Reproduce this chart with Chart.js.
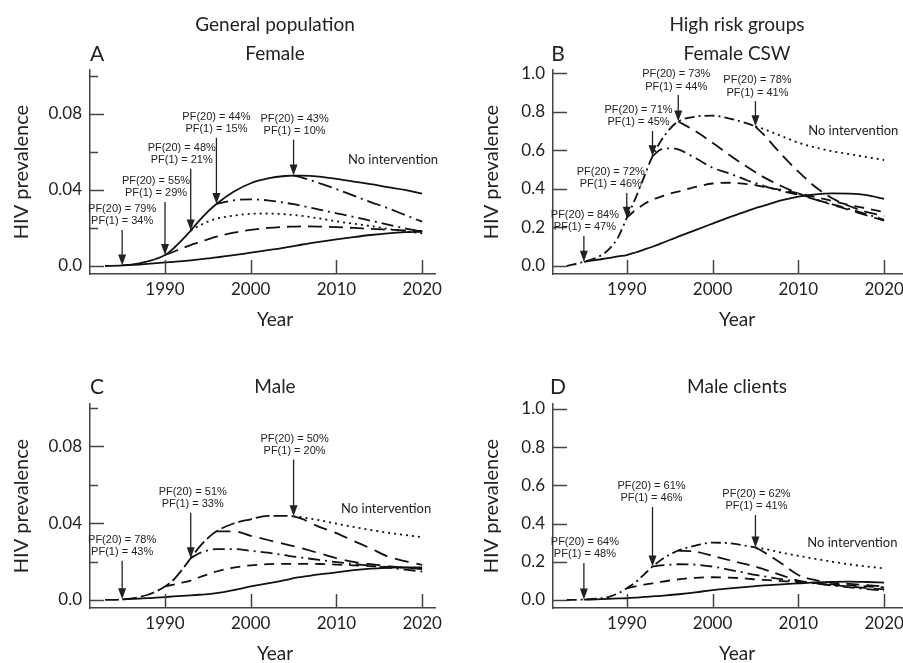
<!DOCTYPE html>
<html>
<head>
<meta charset="utf-8">
<title>HIV prevalence</title>
<script src="https://cdn.jsdelivr.net/npm/chart.js@4.4.0/dist/chart.umd.min.js"></script>
<style>
  body { margin: 0; background: #fff; width: 903px; height: 663px; position: relative; overflow: hidden; font-family: Lato, sans-serif; color: #222; }
  canvas { position: absolute; }
  .txt { position: absolute; transform: translate(-50%, -50%); white-space: nowrap; font-size: 19px; line-height: 1; }
  .letter { font-size: 21px; }
</style>
</head>
<body>
<canvas id="chartA" width="451" height="331" style="left:0;top:0"></canvas>
<canvas id="chartB" width="452" height="331" style="left:451px;top:0"></canvas>
<canvas id="chartC" width="451" height="332" style="left:0;top:331px"></canvas>
<canvas id="chartD" width="452" height="332" style="left:451px;top:331px"></canvas>

<div class="txt" style="left:275px;top:23px">General population</div>
<div class="txt" style="left:275px;top:52px">Female</div>
<div class="txt letter" style="left:97px;top:52px">A</div>
<div class="txt" style="left:737px;top:23px">High risk groups</div>
<div class="txt" style="left:737px;top:52px">Female CSW</div>
<div class="txt letter" style="left:558px;top:52px">B</div>
<div class="txt" style="left:275px;top:385px">Male</div>
<div class="txt letter" style="left:97px;top:385px">C</div>
<div class="txt" style="left:737px;top:385px">Male clients</div>
<div class="txt letter" style="left:558px;top:385px">D</div>
<div class="txt" style="left:275px;top:318px">Year</div>
<div class="txt" style="left:737px;top:318px">Year</div>
<div class="txt" style="left:275px;top:652px">Year</div>
<div class="txt" style="left:737px;top:652px">Year</div>

<script>
'use strict';

// years sampled for all curves
let years = [1983, 1985, 1987, 1988, 1989, 1990, 1991, 1992, 1993, 1994, 1995, 1996, 1998,
  2000, 2002, 2004, 2005, 2006, 2008, 2010, 2012, 2014, 2016, 2018, 2020];

let xTicks = [1990, 2000, 2010, 2020];
let xTickLabels = ['1990', '2000', '2010', '2020'];
let genTicks = [0, 0.02, 0.04, 0.06, 0.08, 0.1];
let genTickLabels = ['0.0', '', '0.04', '', '0.08', ''];
let riskTicks = [0, 0.2, 0.4, 0.6, 0.8, 1.0];
let riskTickLabels = ['0.0', '0.2', '0.4', '0.6', '0.8', '1.0'];

// A - general population, female
let femNoInt = [0, 0.0003, 0.0014, 0.0025, 0.0038, 0.0058, 0.0093, 0.0137, 0.0186, 0.0239, 0.0286, 0.0326, 0.039,
  0.0435, 0.046, 0.0473, 0.0475, 0.0475, 0.047, 0.0458, 0.0444, 0.043, 0.0414, 0.040, 0.038];
let femI1985 = [null, 0.0003, 0.0008, 0.0011, 0.0015, 0.0019, 0.0022, 0.0026, 0.003, 0.0035, 0.004, 0.0045, 0.0057,
  0.007, 0.0083, 0.0097, 0.0105, 0.0113, 0.0127, 0.014, 0.0152, 0.0163, 0.0172, 0.0178, 0.018];
let femI1990 = [null, null, null, null, null, 0.0058, 0.0075, 0.0093, 0.011, 0.0125, 0.014, 0.0154, 0.0175,
  0.019, 0.02, 0.0206, 0.0207, 0.0208, 0.0207, 0.0204, 0.02, 0.0195, 0.0191, 0.0187, 0.0184];
let femI1993 = [null, null, null, null, null, null, null, null, 0.0186, 0.0212, 0.0233, 0.0248, 0.0265,
  0.0274, 0.0276, 0.0272, 0.0268, 0.0263, 0.025, 0.0235, 0.0222, 0.021, 0.0195, 0.0183, 0.0172];
let femI1996 = [null, null, null, null, null, null, null, null, null, null, null, 0.0326, 0.0345,
  0.035, 0.0345, 0.0332, 0.0325, 0.0316, 0.0296, 0.0277, 0.0258, 0.0238, 0.0218, 0.0198, 0.018];
let femI2005 = [null, null, null, null, null, null, null, null, null, null, null, null, null,
  null, null, null, 0.0475, 0.0465, 0.0435, 0.0404, 0.037, 0.0336, 0.0304, 0.0268, 0.0233];
let femArrowYears = [1985, 1990, 1993, 1996, 2005];
let femPF20 = [79, 55, 48, 44, 43];
let femPF1 = [34, 29, 21, 15, 10];

// B - female commercial sex workers
let cswNoInt = [0, 0.022, 0.055, 0.09, 0.15, 0.25, 0.35, 0.46, 0.57, 0.65, 0.71, 0.75, 0.775,
  0.78, 0.765, 0.74, 0.725, 0.71, 0.675, 0.64, 0.615, 0.595, 0.58, 0.565, 0.55];
let cswI1985 = [null, 0.022, 0.035, 0.042, 0.05, 0.057, 0.07, 0.085, 0.1, 0.117, 0.135, 0.152, 0.186,
  0.22, 0.254, 0.285, 0.30, 0.313, 0.34, 0.36, 0.372, 0.377, 0.376, 0.368, 0.348];
let cswI1990 = [null, null, null, null, null, 0.25, 0.29, 0.32, 0.345, 0.36, 0.375, 0.386, 0.41,
  0.428, 0.432, 0.425, 0.42, 0.41, 0.395, 0.377, 0.358, 0.337, 0.316, 0.298, 0.28];
let cswI1993 = [null, null, null, null, null, null, null, null, 0.57, 0.605, 0.61, 0.605, 0.56,
  0.51, 0.48, 0.445, 0.43, 0.415, 0.39, 0.37, 0.345, 0.32, 0.295, 0.268, 0.24];
let cswI1996 = [null, null, null, null, null, null, null, null, null, null, null, 0.75, 0.70,
  0.64, 0.575, 0.515, 0.487, 0.46, 0.415, 0.377, 0.345, 0.317, 0.29, 0.262, 0.235];
let cswI2005 = [null, null, null, null, null, null, null, null, null, null, null, null, null,
  null, null, null, 0.723, 0.68, 0.58, 0.49, 0.41, 0.35, 0.31, 0.28, 0.26];
let cswArrowYears = [1985, 1990, 1993, 1996, 2005];
let cswPF20 = [84, 72, 71, 73, 78];
let cswPF1 = [47, 46, 45, 44, 41];

// C - general population, male
let maleNoInt = [0, 0.0003, 0.0015, 0.0027, 0.0045, 0.007, 0.0105, 0.0158, 0.0217, 0.0275, 0.0322, 0.0357, 0.0398,
  0.042, 0.0438, 0.0438, 0.0435, 0.043, 0.0415, 0.0397, 0.038, 0.0364, 0.035, 0.0338, 0.0327];
let maleI1985 = [null, 0.0003, 0.0007, 0.0009, 0.0012, 0.0015, 0.0018, 0.0021, 0.0024, 0.0027, 0.003, 0.0035, 0.0051,
  0.007, 0.0086, 0.0103, 0.0113, 0.012, 0.0133, 0.0143, 0.0155, 0.0163, 0.0167, 0.0169, 0.0169];
let maleI1990 = [null, null, null, null, null, 0.007, 0.008, 0.009, 0.0101, 0.0118, 0.0133, 0.0148, 0.0168,
  0.018, 0.0186, 0.0188, 0.0188, 0.0188, 0.0187, 0.0184, 0.018, 0.0176, 0.0172, 0.0168, 0.0165];
let maleI1993 = [null, null, null, null, null, null, null, null, 0.0217, 0.0243, 0.0258, 0.0265, 0.0265,
  0.0256, 0.0246, 0.0233, 0.0226, 0.022, 0.0208, 0.0197, 0.0187, 0.0178, 0.0168, 0.0158, 0.0148];
let maleI1996 = [null, null, null, null, null, null, null, null, null, null, null, 0.0357, 0.0357,
  0.0334, 0.0312, 0.0291, 0.028, 0.0268, 0.0243, 0.0217, 0.0198, 0.0186, 0.0176, 0.0168, 0.016];
let maleI2005 = [null, null, null, null, null, null, null, null, null, null, null, null, null,
  null, null, null, 0.0435, 0.0422, 0.038, 0.0348, 0.0307, 0.0268, 0.0226, 0.0202, 0.0183];
let maleArrowYears = [1985, 1993, 2005];
let malePF20 = [78, 51, 50];
let malePF1 = [43, 33, 20];

// D - male clients
let clientNoInt = [0, 0.002, 0.009, 0.018, 0.035, 0.061, 0.092, 0.133, 0.175, 0.21, 0.238, 0.259, 0.285,
  0.30, 0.297, 0.283, 0.275, 0.268, 0.248, 0.231, 0.215, 0.2, 0.186, 0.175, 0.166];
let clientI1985 = [null, 0.002, 0.004, 0.006, 0.008, 0.009, 0.012, 0.016, 0.019, 0.022, 0.026, 0.03, 0.04,
  0.052, 0.061, 0.069, 0.073, 0.076, 0.082, 0.087, 0.092, 0.095, 0.096, 0.094, 0.091];
let clientI1990 = [null, null, null, null, null, 0.061, 0.071, 0.08, 0.087, 0.095, 0.102, 0.108, 0.116,
  0.119, 0.117, 0.112, 0.108, 0.105, 0.099, 0.093, 0.088, 0.082, 0.076, 0.071, 0.066];
let clientI1993 = [null, null, null, null, null, null, null, null, 0.175, 0.181, 0.185, 0.187, 0.185,
  0.175, 0.158, 0.14, 0.131, 0.124, 0.109, 0.096, 0.086, 0.076, 0.066, 0.057, 0.049];
let clientI1996 = [null, null, null, null, null, null, null, null, null, null, null, 0.259, 0.253,
  0.231, 0.208, 0.186, 0.175, 0.16, 0.13, 0.101, 0.088, 0.078, 0.07, 0.062, 0.056];
let clientI2005 = [null, null, null, null, null, null, null, null, null, null, null, null, null,
  null, null, null, 0.275, 0.25, 0.192, 0.131, 0.104, 0.09, 0.084, 0.077, 0.07];
let clientArrowYears = [1985, 1993, 2005];
let clientPF20 = [64, 61, 62];
let clientPF1 = [48, 46, 41];


let dotted = [2, 4];
let dashDot = [12, 5, 2, 5];

let panels = [
  {
    canvas: 'chartA',
    series: [femNoInt, femI1985, femI1990, femI1993, femI1996, femI2005],
    dashes: [[], [], [14, 7], dotted, dashDot, [14, 5, 2, 5]],
    preDash: null,
    yTicks: genTicks, yLabels: genTickLabels, yMin: -0.0042, yMax: 0.103,
    xMin: 1981.25, xMax: 2021.5,
    top: 70, right: 16, yWidth: 90, xHeight: 57, titlePad: 10,
    arrowYears: femArrowYears, pf20: femPF20, pf1: femPF1,
    labelVals: [0.030, 0.0447, 0.0621, 0.0784, 0.0774],
    labelDx: [0, -9, -9, 0, 1],
    noIntAt: [2016.6, 0.0558]
  },
  {
    canvas: 'chartB',
    series: [cswNoInt, cswI1985, cswI1990, cswI1993, cswI1996, cswI2005],
    dashes: [dotted, [], [10, 7], dashDot, [13, 7], [13, 7]],
    preDash: [10, 4, 2, 4],
    yTicks: riskTicks, yLabels: riskTickLabels, yMin: -0.0415, yMax: 1.017,
    xMin: 1981.4, xMax: 2022.2,
    top: 70, right: 0, yWidth: 102, xHeight: 57, titlePad: 29,
    arrowYears: cswArrowYears, pf20: cswPF20, pf1: cswPF1,
    labelVals: [0.265, 0.488, 0.81, 0.996, 0.965],
    labelDx: [1, -16, -14, -2, 2],
    noIntAt: [2016.4, 0.70]
  },
  {
    canvas: 'chartC',
    series: [maleNoInt, maleI1985, maleI1990, maleI1993, maleI1996, maleI2005],
    dashes: [dotted, [], [10, 7], dashDot, [14, 8], [14, 8]],
    preDash: [14, 4],
    yTicks: genTicks, yLabels: genTickLabels, yMin: -0.0042, yMax: 0.102,
    xMin: 1981.25, xMax: 2021.5,
    top: 73, right: 16, yWidth: 90, xHeight: 55, titlePad: 10,
    arrowYears: maleArrowYears, pf20: malePF20, pf1: malePF1,
    labelVals: [0.0313, 0.0563, 0.084],
    labelDx: [0, 2, 1],
    noIntAt: [2015.8, 0.0475]
  },
  {
    canvas: 'chartD',
    series: [clientNoInt, clientI1985, clientI1990, clientI1993, clientI1996, clientI2005],
    dashes: [dotted, [], [10, 7], dashDot, [13, 7], [13, 7]],
    preDash: [10, 4, 2, 4],
    yTicks: riskTicks, yLabels: riskTickLabels, yMin: -0.042, yMax: 1.026,
    xMin: 1981.4, xMax: 2022.2,
    top: 73, right: 0, yWidth: 102, xHeight: 55, titlePad: 29,
    arrowYears: clientArrowYears, pf20: clientPF20, pf1: clientPF1,
    labelVals: [0.304, 0.597, 0.555],
    labelDx: [1, -1, 1],
    noIntAt: [2016.3, 0.298]
  }
];

// inward tick marks, arrows with PF labels, "No intervention"
function makeMarks(p) {
  return {
    id: 'marks',
    afterDraw(chart) {
      let ctx = chart.ctx;
      let xs = chart.scales.x;
      let ys = chart.scales.y;
      let a = chart.chartArea;
      ctx.save();
      ctx.strokeStyle = '#444';
      ctx.lineWidth = 1.5;
      ctx.beginPath();
      p.yTicks.forEach((v, i) => {
        let py = Math.round(ys.getPixelForValue(v)) + 0.5;
        let len = p.yLabels[i] === '' ? 8 : 14;
        ctx.moveTo(a.left, py);
        ctx.lineTo(a.left + len, py);
      });
      xTicks.forEach(v => {
        let px = Math.round(xs.getPixelForValue(v)) + 0.5;
        ctx.moveTo(px, a.bottom);
        ctx.lineTo(px, a.bottom - 14);
      });
      ctx.stroke();

      ctx.fillStyle = '#222';
      ctx.strokeStyle = '#222';
      ctx.lineWidth = 1.3;
      ctx.font = '11px "Liberation Sans Narrow", "Liberation Sans", sans-serif';
      ctx.textAlign = 'center';
      ctx.textBaseline = 'middle';
      p.arrowYears.forEach((yr, i) => {
        let px = xs.getPixelForValue(yr);
        let tip = ys.getPixelForValue(p.series[0][years.indexOf(yr)]);
        let ly = ys.getPixelForValue(p.labelVals[i]);
        let tx = px + p.labelDx[i];
        ctx.fillText('PF(20) = ' + p.pf20[i] + '%', tx, ly);
        ctx.fillText('PF(1) = ' + p.pf1[i] + '%', tx, ly + 12.5);
        ctx.beginPath();
        ctx.moveTo(px, ly + 21);
        ctx.lineTo(px, tip - 8);
        ctx.stroke();
        ctx.beginPath();
        ctx.moveTo(px, tip);
        ctx.lineTo(px - 4, tip - 11);
        ctx.lineTo(px + 4, tip - 11);
        ctx.closePath();
        ctx.fill();
      });

      ctx.font = '13px Lato, sans-serif';
      ctx.fillText('No intervention', xs.getPixelForValue(p.noIntAt[0]), ys.getPixelForValue(p.noIntAt[1]));
      ctx.restore();
    }
  };
}

function drawPanel(p) {
  let datasets = p.series.map((vals, i) => {
    let ds = {
      data: years.map((yr, j) => ({ x: yr, y: vals[j] })),
      borderColor: '#111',
      borderWidth: 1.8,
      borderDash: p.dashes[i],
      pointRadius: 0,
      cubicInterpolationMode: 'monotone',
      spanGaps: false
    };
    if (i === 0 && p.preDash) {
      ds.segment = { borderDash: c => c.p0.parsed.x >= 2005 ? p.dashes[0] : p.preDash };
    }
    return ds;
  });

  new Chart(document.getElementById(p.canvas), {
    type: 'line',
    data: { datasets: datasets },
    options: {
      responsive: false,
      animation: false,
      layout: { padding: { left: 0, top: p.top, right: p.right, bottom: 0 } },
      plugins: { legend: { display: false }, tooltip: { enabled: false } },
      scales: {
        x: {
          type: 'linear',
          min: p.xMin,
          max: p.xMax,
          afterFit: s => {
            s.height = p.xHeight;
            s.paddingLeft = 0;
            s.paddingRight = 0;
          },
          afterBuildTicks: s => { s.ticks = xTicks.map(v => ({ value: v })); },
          ticks: {
            callback: (v, i) => xTickLabels[i],
            font: { family: 'Lato', size: 17 },
            color: '#222',
            padding: 5,
            maxRotation: 0,
            autoSkip: false
          },
          grid: { display: false, drawTicks: false },
          border: { display: true, color: '#444', width: 1.5 }
        },
        y: {
          min: p.yMin,
          max: p.yMax,
          afterFit: s => {
            s.width = p.yWidth;
            s.paddingTop = 0;
            s.paddingBottom = 0;
          },
          afterBuildTicks: s => { s.ticks = p.yTicks.map(v => ({ value: v })); },
          ticks: {
            callback: (v, i) => p.yLabels[i],
            font: { family: 'Lato', size: 17 },
            color: '#222',
            padding: 8,
            autoSkip: false
          },
          grid: { display: false, drawTicks: false },
          border: { display: true, color: '#444', width: 1.5 },
          title: {
            display: true,
            text: 'HIV prevalence',
            font: { family: 'Lato', size: 20 },
            color: '#222',
            padding: { top: p.titlePad, bottom: 0 }
          }
        }
      }
    },
    plugins: [makeMarks(p)]
  });
}

panels.forEach(drawPanel);
</script>
</body>
</html>
